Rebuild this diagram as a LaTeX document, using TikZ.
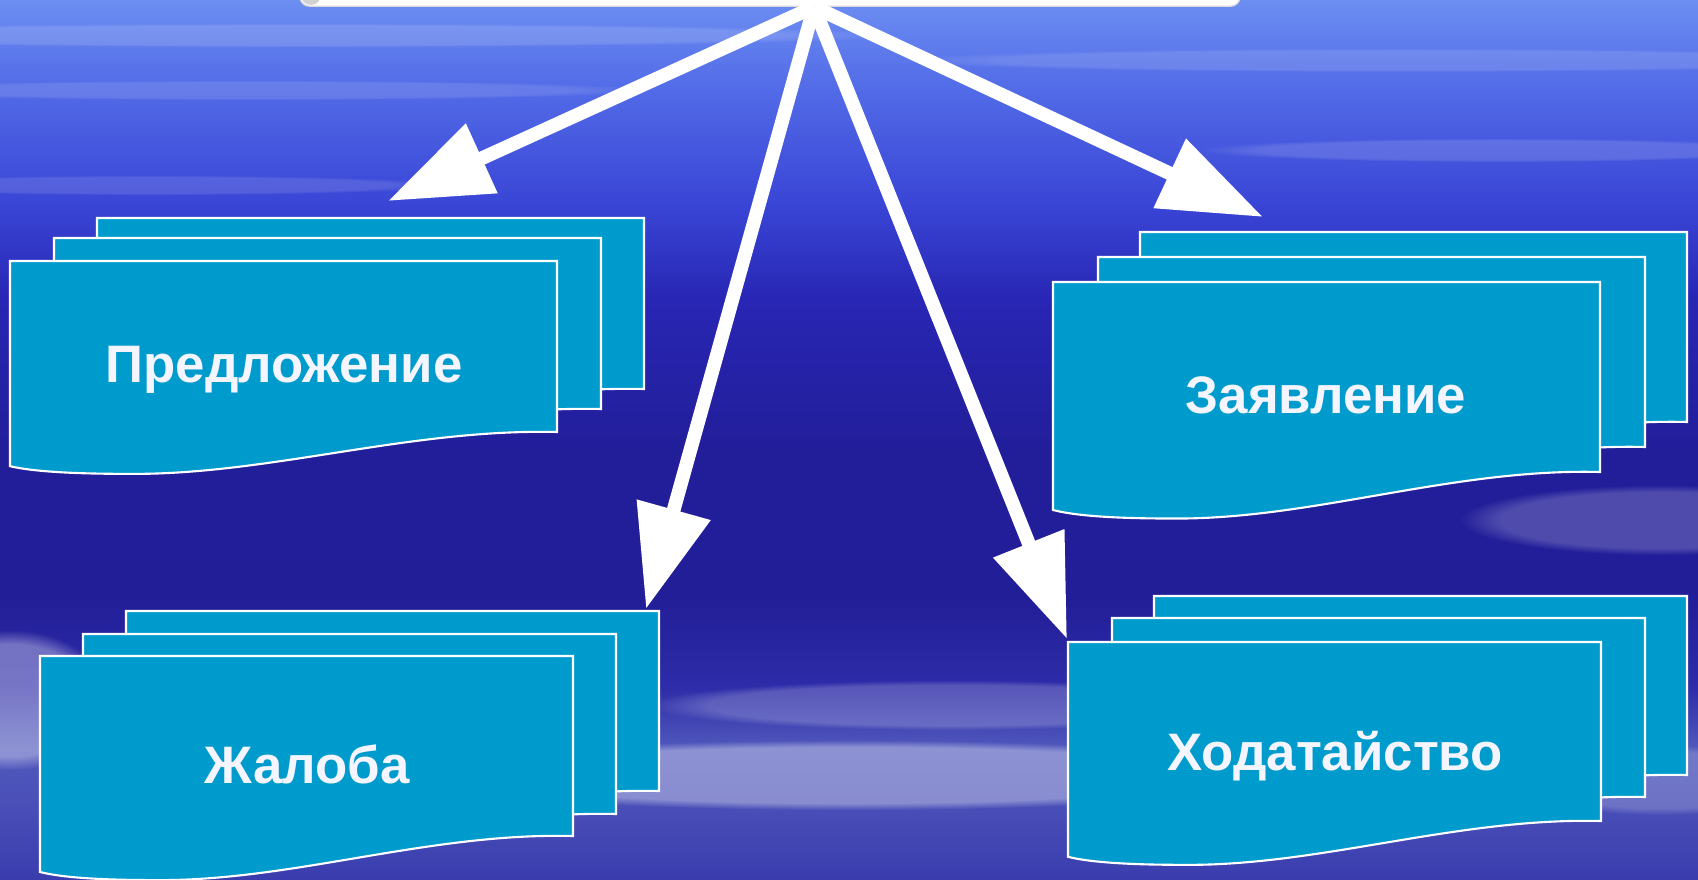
\documentclass[tikz,border=0pt]{standalone}
\usepackage{fontspec}
\setmainfont{Liberation Sans}
\usepackage{xcolor}
\usetikzlibrary{arrows.meta, positioning, fadings}

\definecolor{docblue}{RGB}{0,155,205}
\definecolor{sea0}{HTML}{3A3CAE}
\definecolor{sea1}{HTML}{4A50B8}
\definecolor{sea2}{HTML}{5058BC}
\definecolor{sea3}{HTML}{2E2CA8}
\definecolor{sea4}{HTML}{221E98}
\definecolor{sea5}{HTML}{221E9A}
\definecolor{sea6}{HTML}{2826B4}
\definecolor{sea7}{HTML}{3A46D6}
\definecolor{sea8}{HTML}{5068E6}
\definecolor{sea9}{HTML}{6C8EF2}
% the path is fitted to the middle half of the shading
\pgfdeclareverticalshading{sea}{100bp}{color(0bp)=(sea0); color(25bp)=(sea0);
  color(29.5bp)=(sea1); color(32.5bp)=(sea2); color(36bp)=(sea3); color(41bp)=(sea4);
  color(49.5bp)=(sea5); color(58bp)=(sea6); color(63.5bp)=(sea7); color(69.5bp)=(sea8);
  color(75bp)=(sea9); color(100bp)=(sea9)}

\tikzset{
  page/.style={fill=docblue, draw=white, line width=0.6pt},
  doctext/.style={text=white!96!blue, anchor=base, font=\bfseries\fontsize{15}{18}\selectfont},
  feed/.style={draw=white, line width=3.9pt, -{Triangle[length=1.03cm, width=0.73cm]}},
  topbox/.style={fill=white, draw=gray!30, rounded corners=0.1cm},
  streak/.style={fill=white, path fading=circle with fuzzy edge 20 percent},
  docpage/.pic={\path[page] (0,0) -- (1,0) -- (1,1)
      .. controls (0.73,0.98) and (0.475,1.25) .. (0.22,1.245)
      .. controls (0.11,1.245) and (0.04,1.23) .. (0,1.2) -- cycle;}
}

\begin{document}
\begin{tikzpicture}[x=0.01cm, y=-0.01cm]
\useasboundingbox (0,0) rectangle (1698,880);
\shade[shading=sea] (0,0) rectangle (1698,880);

% light streaks in the sky
\fill[streak, opacity=0.14] (300,35) ellipse [x radius=6cm, y radius=0.12cm];
\fill[streak, opacity=0.12] (1400,60) ellipse [x radius=5cm, y radius=0.12cm];
\fill[streak, opacity=0.12] (250,90) ellipse [x radius=4cm, y radius=0.1cm];
\fill[streak, opacity=0.14] (1500,150) ellipse [x radius=3cm, y radius=0.12cm];
\fill[streak, opacity=0.12] (150,185) ellipse [x radius=3cm, y radius=0.1cm];
\fill[streak, opacity=0.2] (1660,520) ellipse [x radius=2cm, y radius=0.35cm];
\fill[streak, opacity=0.35] (850,775) ellipse [x radius=4.5cm, y radius=0.35cm];
\fill[streak, opacity=0.2] (950,705) ellipse [x radius=3cm, y radius=0.25cm];
\fill[streak, opacity=0.35] (10,700) ellipse [x radius=1cm, y radius=0.7cm];
\fill[streak, opacity=0.2] (1660,780) ellipse [x radius=1.5cm, y radius=0.35cm];

% document stacks
\foreach \dx/\dy in {87/-43, 44/-23, 0/0}
  \pic[xscale=547, yscale=171] at ({10+\dx},{261+\dy}) {docpage};
\foreach \dx/\dy in {87/-50, 45/-25, 0/0}
  \pic[xscale=547, yscale=190] at ({1053+\dx},{282+\dy}) {docpage};
\foreach \dx/\dy in {86/-45, 43/-22, 0/0}
  \pic[xscale=533, yscale=180] at ({40+\dx},{656+\dy}) {docpage};
\foreach \dx/\dy in {86/-46, 44/-24, 0/0}
  \pic[xscale=533, yscale=179] at ({1068+\dx},{642+\dy}) {docpage};

\node[doctext] (predl) at (284,383) {Предложение};
\node[doctext] (zayav) at (1326,414) {Заявление};
\node[doctext] (zhal) at (307,783) {Жалоба};
\node[doctext] (khod) at (1335,770) {Ходатайство};

% heading box and arrows
\node[topbox, minimum width=9.4cm, minimum height=1cm, anchor=south] (head) at (770,7) {};
\fill[gray!35] (311,-5) circle (0.1cm);
\coordinate (hub) at ([xshift=0.44cm]head.south);
\coordinate (predl-in) at (388,201);
\coordinate (zhal-in) at (646,609);
\coordinate (khod-in) at (1067,639);
\coordinate (zayav-in) at (1263,217);
\draw[feed] (hub) -- (predl-in);
\draw[feed] (hub) -- (zhal-in);
\draw[feed] (hub) -- (khod-in);
\draw[feed] (hub) -- (zayav-in);
\end{tikzpicture}
\end{document}
